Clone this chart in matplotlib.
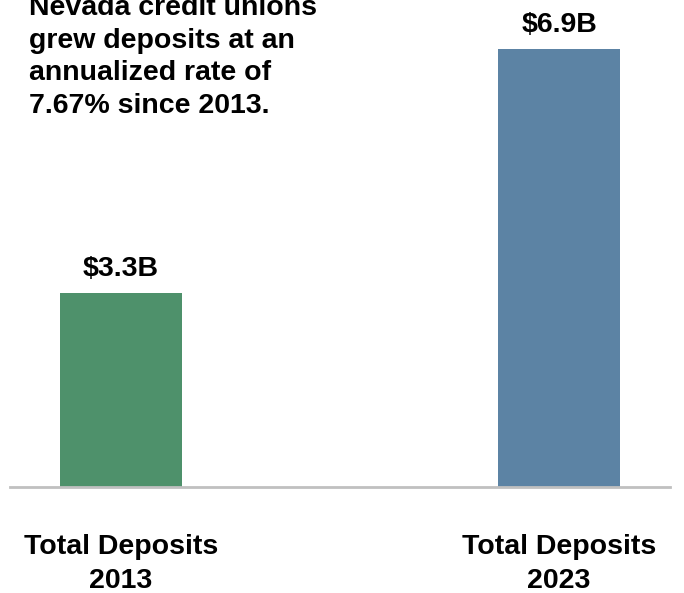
import matplotlib.pyplot as plt

# data
categories = ["Total Deposits\n2013", "Total Deposits\n2023"]
values = [3.3, 6.9]
value_labels = ["$3.3B", "$6.9B"]
colors = ["#4e916b", "#5c83a4"]
note = "Nevada credit unions\ngrew deposits at an\nannualized rate of\n7.67% since 2013."

plt.rcParams['font.family'] = ['Liberation Sans', 'DejaVu Sans']
plt.rcParams['font.weight'] = 'bold'

fig = plt.figure(figsize=(6.84, 5.93), dpi=100)
ax = fig.add_axes([10 / 684, 106 / 593, 660 / 684, 487 / 593])

x = list(range(len(values)))
ax.bar(x, values, width=0.2785, color=colors, bottom=0)
ax.set_xlim(-0.2534, 1.2534)
ax.set_ylim(0.425, 7.624)

for xi, v, lab in zip(x, values, value_labels):
    ax.annotate(lab, (xi, v), xytext=(0, 12), textcoords='offset points',
                ha='center', va='baseline', fontsize=20.5, fontweight='bold')

for s in ['top', 'right', 'left']:
    ax.spines[s].set_visible(False)
ax.spines['bottom'].set_color('#c0c0c0')
ax.spines['bottom'].set_linewidth(2)
ax.set_yticks([])
ax.set_xticks(x)
ax.set_xticklabels(categories, fontsize=20.5, fontweight='bold', linespacing=1.4)
ax.tick_params(axis='x', length=0, pad=34)

fig.text(29 / 684, 1 - 113 / 593, note, fontsize=20.5, fontweight='bold',
         ha='left', va='baseline', linespacing=1.33)

fig.savefig("out.png", dpi=100)
